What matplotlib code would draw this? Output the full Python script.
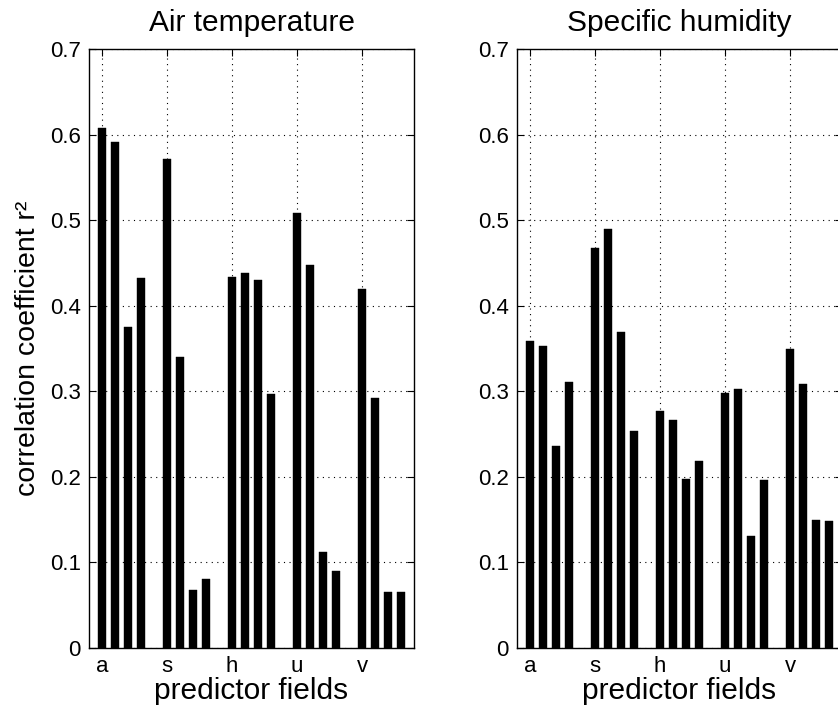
import numpy as np
import matplotlib
matplotlib.use('Agg')
import matplotlib.pyplot as plt

plt.rcParams['font.family'] = ['Liberation Sans', 'DejaVu Sans']

# predictor fields and r^2 values (4 bars per field)
fields = ['a', 's', 'h', 'u', 'v']
air_temp = [
    [0.608, 0.591, 0.375, 0.432],
    [0.572, 0.340, 0.068, 0.081],
    [0.434, 0.438, 0.430, 0.297],
    [0.508, 0.448, 0.112, 0.090],
    [0.420, 0.292, 0.066, 0.065],
]
humidity = [
    [0.359, 0.353, 0.236, 0.311],
    [0.468, 0.490, 0.369, 0.254],
    [0.277, 0.266, 0.198, 0.219],
    [0.298, 0.303, 0.131, 0.196],
    [0.349, 0.308, 0.149, 0.148],
]
titles = ['Air temperature', 'Specific humidity']
yticks = [0, 0.1, 0.2, 0.3, 0.4, 0.5, 0.6, 0.7]
ytick_labels = ['0', '0.1', '0.2', '0.3', '0.4', '0.5', '0.6', '0.7']

W, H = 838, 708
fig = plt.figure(figsize=(W / 100, H / 100), dpi=100)

# axes placement in pixels (left, right); right panel runs past the figure edge
panels = [(89, 414), (517, 842)]
top, bottom = 49, 648


def draw_panel(ax, data, title, ylabel=None):
    for i, vals in enumerate(data):
        xs = [5 * i + j + 1 for j in range(len(vals))]
        ax.bar(xs, vals, width=0.56, color='black', edgecolor='black', linewidth=0.3, zorder=3)
    ax.set_xlim(0, 25)
    ax.set_ylim(0, 0.7)
    ax.set_xticks([5 * i + 1 for i in range(len(fields))])
    ax.set_xticklabels(fields, fontsize=16)
    ax.set_yticks(yticks)
    ax.set_yticklabels(ytick_labels, fontsize=16)
    ax.tick_params(direction='in', length=5, width=0.8, top=True, right=True, pad=6)
    ax.grid(True, linestyle=(0, (1, 4)), color='black', linewidth=0.8, zorder=0)
    for s in ax.spines.values():
        s.set_linewidth(1.0)
    ax.set_title(title, fontsize=21.5, pad=13)
    ax.set_xlabel('predictor fields', fontsize=21.5, labelpad=0)
    if ylabel:
        ax.set_ylabel(ylabel, fontsize=20.5, labelpad=6)


for k, (x0, x1) in enumerate(panels):
    ax = fig.add_axes([x0 / W, 1 - bottom / H, (x1 - x0) / W, (bottom - top) / H])
    data = air_temp if k == 0 else humidity
    draw_panel(ax, data, titles[k], 'correlation coefficient r²' if k == 0 else None)

fig.savefig('out.png', dpi=100)
